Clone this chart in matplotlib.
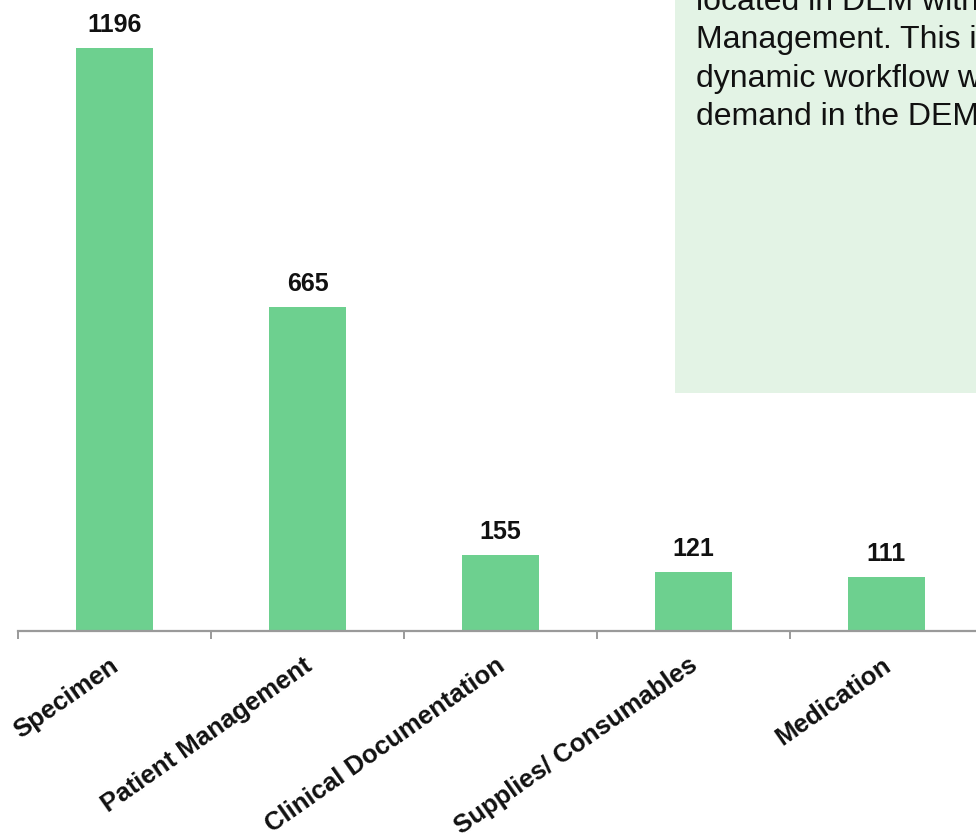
import matplotlib
matplotlib.use("Agg")
import matplotlib.pyplot as plt
from matplotlib.patches import Rectangle

plt.rcParams['font.family'] = ['Liberation Sans', 'DejaVu Sans']

categories = ["Specimen", "Patient Management", "Clinical Documentation",
              "Supplies/ Consumables", "Medication"]
counts = [1196, 665, 155, 121, 111]

note_lines = ["located in DEM within", "Management. This is",
              "dynamic workflow which", "demand in the DEM"]

W, H = 976, 840
fig = plt.figure(figsize=(W / 100, H / 100), dpi=100)

# axis geometry in pixels
left_px, base_px, cat_px = 18, 631, 193
ax = fig.add_axes([left_px / W, (H - base_px) / H, (W - left_px) / W, base_px / H])

bar_color = "#6DD08F"
x = list(range(len(categories)))
bars = ax.bar(x, counts, width=0.4, color=bar_color, zorder=2)

for b, v in zip(bars, counts):
    ax.annotate(f"{v}", (b.get_x() + b.get_width() / 2, v), xytext=(0, 11.5),
                textcoords="offset points", ha="center", va="baseline",
                fontsize=18, fontweight="bold", color="#111111")

for s in ["top", "right", "left"]:
    ax.spines[s].set_visible(False)
ax.spines["bottom"].set_color("#9a9a9a")
ax.spines["bottom"].set_linewidth(1.6)
ax.set_yticks([])

# label anchors sit slightly left of the bar centres
label_shift = 5 / cat_px
ax.set_xticks([i - label_shift for i in x])
ax.set_xticklabels(categories, rotation=35, ha="right", va="top",
                   rotation_mode="anchor", fontsize=18.5, fontweight="bold",
                   color="#111111")
ax.tick_params(axis="x", which="major", length=0, pad=16)
ax.set_xticks([i - 0.5 for i in range(6)], minor=True)
ax.tick_params(axis="x", which="minor", length=6, width=1.4, color="#9a9a9a",
               direction="out")

# limits set after the ticks so the boundary ticks do not widen the view
ax.set_xlim(-0.5, -0.5 + (W - left_px) / cat_px)
ax.set_ylim(0, base_px / (583 / 1196))

# note panel
fig.patches.append(Rectangle((675 / W, (H - 393) / H), 1, 1, transform=fig.transFigure,
                             facecolor="#E3F3E5", edgecolor="none", zorder=0))
for i, line in enumerate(note_lines):
    fig.text(696 / W, (H - (10 + 38.3 * i)) / H, line, fontsize=23,
             color="#111111", ha="left", va="baseline")

fig.savefig("out.png", dpi=100)
